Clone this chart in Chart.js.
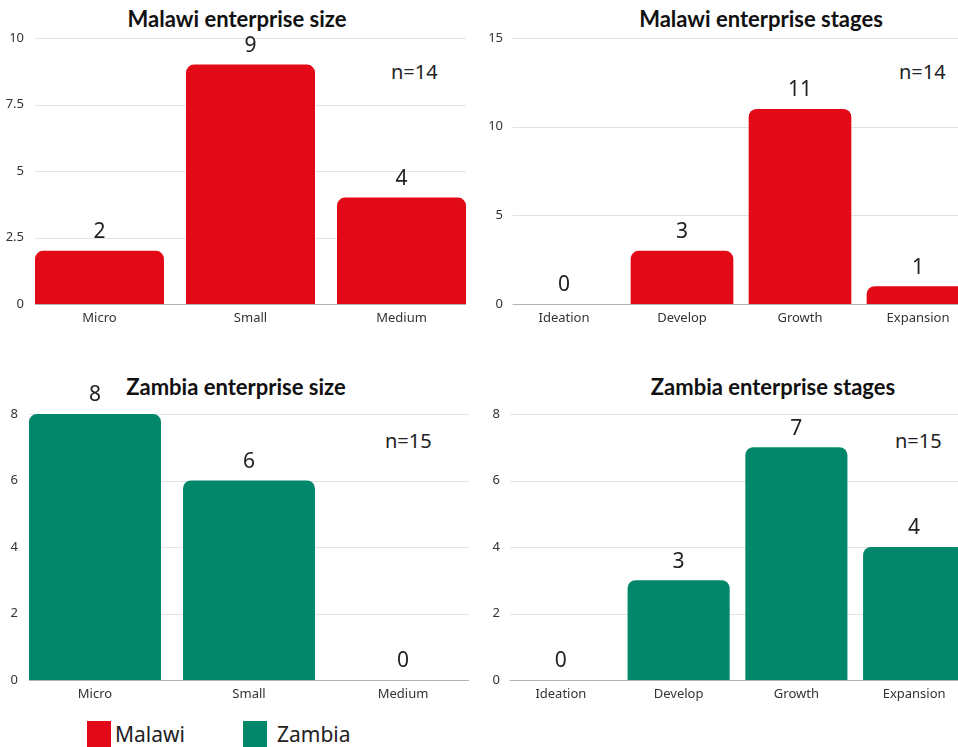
<!DOCTYPE html>
<html>
<head>
<meta charset="utf-8">
<script src="https://cdn.jsdelivr.net/npm/chart.js@4"></script>
<style>
  html, body { margin: 0; padding: 0; background: #fff; }
  body { width: 958px; height: 747px; overflow: hidden; position: relative; font-family: "Noto Sans", sans-serif; }
  canvas { position: absolute; }
  .title { position: absolute; font-family: "Lato", sans-serif; font-weight: 700; font-size: 22px; color: #111; text-align: center; width: 480px; }
  .n { position: absolute; font-family: "Noto Sans", sans-serif; font-size: 20px; color: #222; }
  .legend { position: absolute; top: 721px; font-family: "Noto Sans", sans-serif; font-size: 21px; color: #222; }
  .legend span.box { position: absolute; top: 0; width: 24px; height: 26px; }
  .legend span.txt { position: absolute; top: -1px; white-space: nowrap; }
</style>
</head>
<body>

<div class="title" style="left:-3px;top:5px;">Malawi enterprise size</div>
<div class="title" style="left:521px;top:5px;">Malawi enterprise stages</div>
<div class="title" style="left:-4px;top:373px;">Zambia enterprise size</div>
<div class="title" style="left:533px;top:373px;">Zambia enterprise stages</div>

<div class="n" style="left:391px;top:58px;">n=14</div>
<div class="n" style="left:899px;top:58px;">n=14</div>
<div class="n" style="left:385px;top:427px;">n=15</div>
<div class="n" style="left:895px;top:427px;">n=15</div>

<canvas id="c1" width="480" height="326" style="left:0;top:4px;"></canvas>
<canvas id="c2" width="500" height="326" style="left:480px;top:4px;"></canvas>
<canvas id="c3" width="482" height="326" style="left:-2px;top:380px;"></canvas>
<canvas id="c4" width="500" height="326" style="left:480px;top:380px;"></canvas>

<div class="legend" style="left:87px;"><span class="box" style="left:0;background:#e20a16;"></span><span class="txt" style="left:28px;">Malawi</span></div>
<div class="legend" style="left:243px;"><span class="box" style="left:0;background:#03876a;"></span><span class="txt" style="left:34px;">Zambia</span></div>

<script>
// data
const sizeLabels = ['Micro', 'Small', 'Medium'];
const stageLabels = ['Ideation', 'Develop', 'Growth', 'Expansion'];
const malawiSize = [2, 9, 4];
const malawiStages = [0, 3, 11, 1];
const zambiaSize = [8, 6, 0];
const zambiaStages = [0, 3, 7, 4];

const RED = '#e20a16';
const GREEN = '#03876a';

// grid lines only under the bars, like the original
const barGrid = {
    id: 'barGrid',
    beforeDatasetsDraw(chart) {
        const bars = chart.getDatasetMeta(0).data;
        if (!bars.length) return;
        const first = bars[0], last = bars[bars.length - 1];
        const x0 = first.x - first.width / 2;
        const x1 = last.x + last.width / 2;
        const y = chart.scales.y;
        const ctx = chart.ctx;
        ctx.save();
        ctx.lineWidth = 1;
        y.ticks.forEach(t => {
            const py = Math.round(y.getPixelForValue(t.value)) + 0.5;
            ctx.strokeStyle = t.value === 0 ? '#b3b3b3' : '#e3e3e3';
            ctx.beginPath();
            ctx.moveTo(x0, py);
            ctx.lineTo(x1, py);
            ctx.stroke();
        });
        ctx.restore();
    }
};

// value labels over the bars
const valueLabels = {
    id: 'valueLabels',
    afterDatasetsDraw(chart) {
        const ctx = chart.ctx;
        const ds = chart.data.datasets[0];
        ctx.save();
        ctx.font = '21px "Noto Sans", sans-serif';
        ctx.fillStyle = '#222';
        ctx.textAlign = 'center';
        ctx.textBaseline = 'bottom';
        chart.getDatasetMeta(0).data.forEach((bar, i) => {
            ctx.fillText(String(ds.data[i]), bar.x, bar.y - 8);
        });
        ctx.restore();
    }
};

function makeChart(id, labels, values, color, yMax, yStep, axisW, padRight, tickPad, barPct) {
    return new Chart(document.getElementById(id), {
        type: 'bar',
        data: {
            labels: labels,
            datasets: [{
                data: values,
                backgroundColor: color,
                borderRadius: { topLeft: 8, topRight: 8, bottomLeft: 0, bottomRight: 0 },
                borderSkipped: 'bottom',
                barPercentage: barPct,
                categoryPercentage: 1
            }]
        },
        options: {
            responsive: false,
            animation: false,
            layout: { padding: { top: 34, right: padRight, left: 0, bottom: 0 } },
            plugins: { legend: { display: false }, tooltip: { enabled: false } },
            scales: {
                x: {
                    grid: { display: false, drawTicks: false },
                    border: { display: false },
                    ticks: { color: '#333', padding: 6, font: { family: '"Noto Sans", sans-serif', size: 13 } },
                    afterFit: s => { s.height = 26; }
                },
                y: {
                    min: 0,
                    max: yMax,
                    grid: { display: false, drawTicks: false },
                    border: { display: false },
                    ticks: { stepSize: yStep, color: '#333', padding: tickPad, font: { family: '"Noto Sans", sans-serif', size: 13 } },
                    afterFit: s => { s.width = axisW; }
                }
            }
        },
        plugins: [barGrid, valueLabels]
    });
}

makeChart('c1', sizeLabels, malawiSize, RED, 10, 2.5, 24, 3, 0, 0.854);
makeChart('c2', stageLabels, malawiStages, RED, 15, 5, 25, 3, 2, 0.87);
makeChart('c3', sizeLabels, zambiaSize, GREEN, 8, 2, 20, 0, 0, 0.857);
makeChart('c4', stageLabels, zambiaStages, GREEN, 8, 2, 22, 7, 2, 0.867);
</script>
</body>
</html>
